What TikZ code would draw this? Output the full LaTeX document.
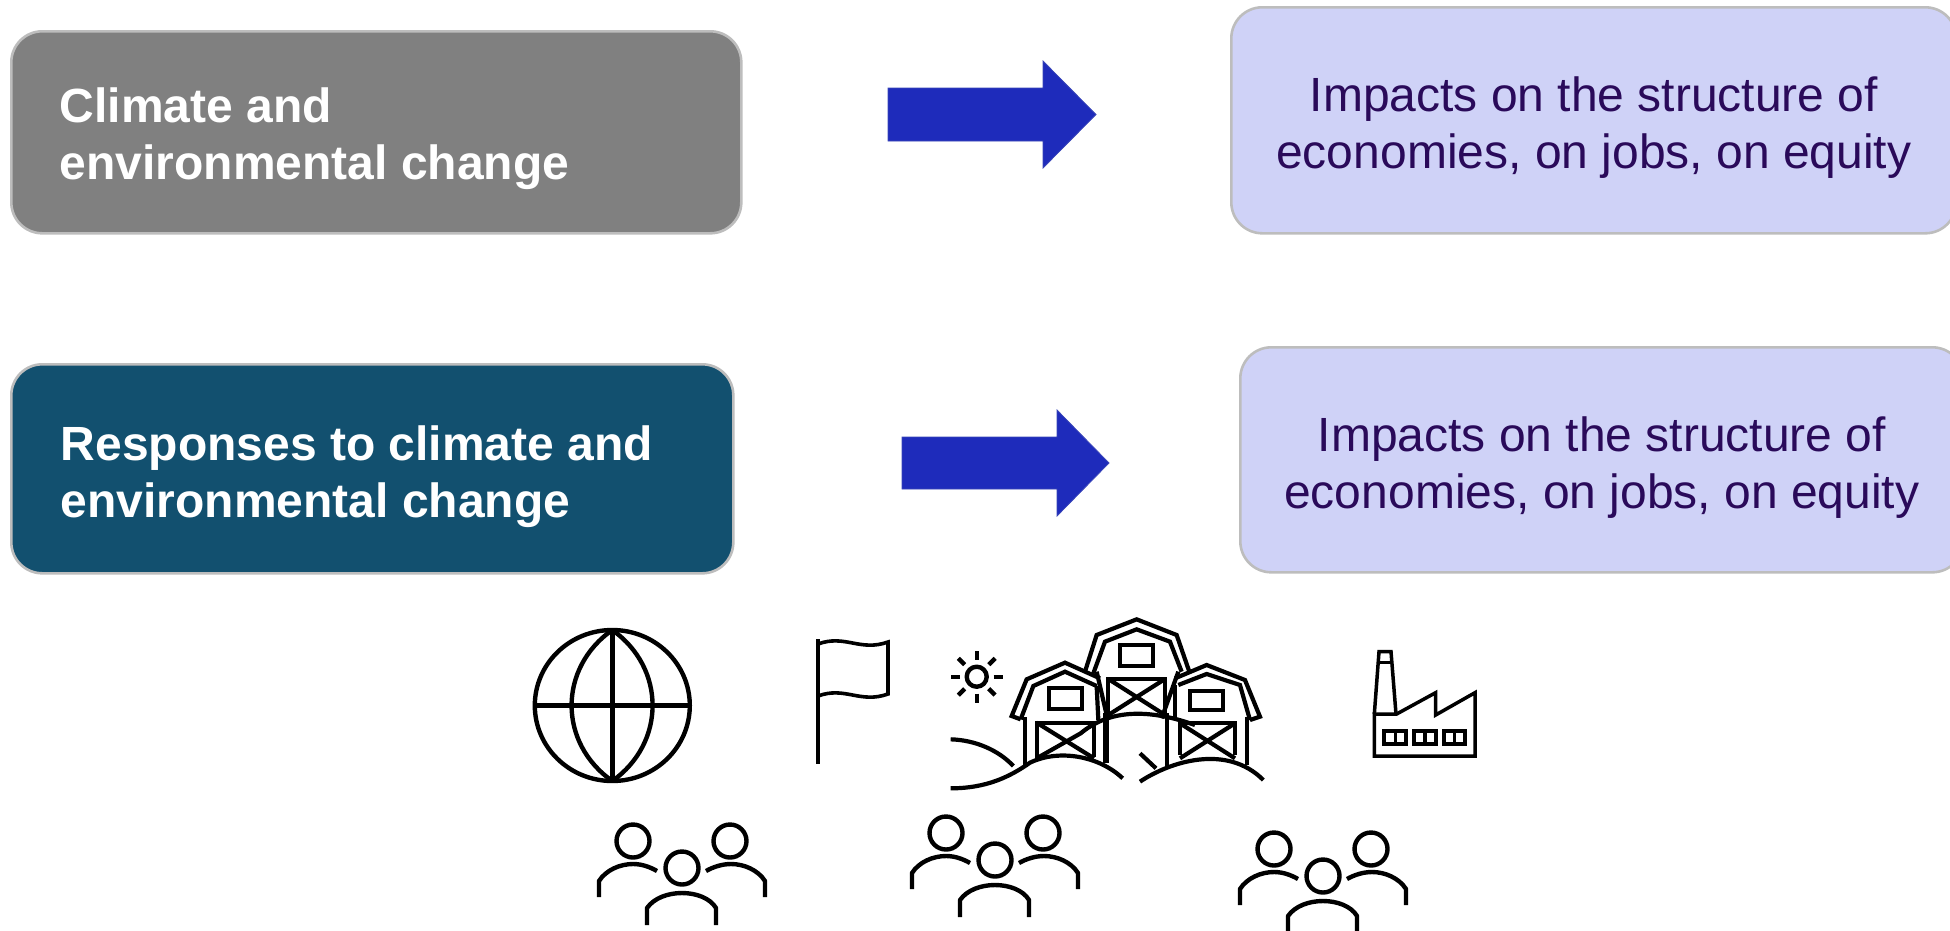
\documentclass[tikz,border=0pt]{standalone}
\usepackage{fontspec}
\setmainfont{Liberation Sans}
\definecolor{boxgray}{HTML}{808080}
\definecolor{boxteal}{HTML}{12506F}
\definecolor{boxlav}{HTML}{CFD2F7}
\definecolor{boxedge}{HTML}{BDBDBD}
\definecolor{lavtext}{HTML}{2A0A5A}
\definecolor{arrowblue}{HTML}{1E2BBB}
\definecolor{arrowedge}{HTML}{3A46B8}
\newcommand{\causetext}[3]{\hspace*{47pt}\parbox{#1}{\vspace*{#2}\bfseries #3}}
\newcommand{\impacttext}[1]{\parbox{700pt}{\vspace*{15pt}\centering #1}}
\tikzset{
  x=1pt,y=-1pt,
  box/.style={draw=boxedge,line width=2.6pt,rounded corners=31pt,anchor=north west,inner sep=0pt,font=\fontsize{48}{57}\selectfont},
  causebox/.style={box,text=white,align=left},
  impactbox/.style={box,fill=boxlav,text=lavtext,align=center},
  blockarrow/.style={fill=arrowblue,draw=arrowedge,line width=.8pt,line join=miter},
  ico/.style={draw=black,line width=4.4pt,line join=round},
  thin ico/.style={draw=black,line width=3.6pt,line join=miter},
  pics/people/.style={code={
    \foreach \hx/\hy in {633/841,730/841,682/868}
      \draw[ico] (\hx,\hy) circle[radius=16.5];
    \draw[ico,line join=round] (599,897) -- (599,881) .. controls (606,870) and (620,864) .. (633,864) .. controls (642,864) and (650,867) .. (657,871);
    \draw[ico] (765,897) -- (765,881) .. controls (758,870) and (744,864) .. (731,864) .. controls (722,864) and (713,867) .. (706,871);
    \draw[ico] (647,925) -- (647,908) .. controls (654,898) and (668,893) .. (682,893) .. controls (696,893) and (710,898) .. (716,908) -- (716,925);
  }},
}
\begin{document}
\begin{tikzpicture}
\useasboundingbox (0,0) rectangle (1950,930);
% boxes
\node[causebox,fill=boxgray,minimum width=730pt,minimum height=202pt] (cause1) at (10,30)
  {\causetext{680pt}{12.5pt}{Climate and\\environmental change}};
\node[causebox,fill=boxteal,minimum width=722pt,minimum height=209pt] (cause2) at (10,363)
  {\causetext{670pt}{15pt}{Responses to climate and\\environmental change}};
\node[impactbox,minimum width=725pt,minimum height=226pt] (impact1) at (1230,6)
  {\impacttext{Impacts on the structure of\\economies, on jobs, on equity}};
\node[impactbox,minimum width=723pt,minimum height=225pt] (impact2) at (1239,346)
  {\impacttext{Impacts on the structure of\\economies, on jobs, on equity}};
% block arrows
\draw[blockarrow] (888,88) -- (1043,88) -- (1043,61) -- (1096,114.5) -- (1043,168) -- (1043,141) -- (888,141) -- cycle;
\draw[blockarrow] (902,437) -- (1057,437) -- (1057,410) -- (1109,463) -- (1057,516) -- (1057,489) -- (902,489) -- cycle;
% globe
\draw[ico] (612.3,705.5) ellipse[x radius=77.5,y radius=75.5];
\draw[ico] (612.3,630) -- (612.3,781);
\draw[ico] (535,705.5) -- (690,705.5);
\draw[ico] (612.3,630) .. controls (558,668) and (558,743) .. (612.3,781) .. controls (666,743) and (666,668) .. (612.3,630);
% flag
\draw[thin ico] (818,639) -- (818,764);
\draw[thin ico] (818,644) .. controls (845,634) and (860,652) .. (888,642) -- (888,694) .. controls (860,704) and (845,686) .. (818,696);
% sun
\draw[ico] (976.7,676.7) circle[radius=10];
\foreach \a in {0,45,...,315}
  \draw[ico,line join=miter] (976.7,676.7) ++(\a:17) -- ++(\a:9);
% barns and hills
\begin{scope}[shift={(930,600)},x=.3333pt,y=-.3333pt]
\tikzset{bb/.style={draw=black,line width=4.2pt,line join=miter}}
\draw[bb] (62,418) .. controls (135,420) and (205,450) .. (250,498);
\draw[bb] (62,565) .. controls (170,565) and (240,530) .. (300,488) .. controls (390,445) and (510,470) .. (578,535);
\draw[bb] (630,545) .. controls (720,485) and (890,430) .. (1000,540);
\draw[bb] (320,475) -- (452,400) .. controls (530,335) and (640,320) .. (795,375);
\draw[bb] (630,460) -- (678,505);
% left barn
\draw[bb] (272,358) -- (245,348) -- (290,238) -- (405,188) -- (510,235);
\draw[bb] (272,358) -- (310,258) -- (405,215) -- (500,258);
\draw[bb] (285,495) -- (285,352);
\draw[bb] (525,490) -- (525,340);
\draw[bb] (500,258) -- (505,360);
\draw[bb] (357,265) rectangle (457,328);
\draw[bb] (320,475) -- (320,368) -- (492,368) -- (492,470);
\draw[bb] (320,368) -- (492,475);
% right barn
\draw[bb] (960,360) -- (990,350) -- (945,240) -- (830,195) -- (735,235);
\draw[bb] (960,360) -- (930,255) -- (830,222) -- (745,255);
\draw[bb] (950,495) -- (950,352);
\draw[bb] (710,500) -- (710,340);
\draw[bb] (735,255) -- (735,355);
\draw[bb] (780,272) rectangle (880,330);
\draw[bb] (750,465) -- (750,370) -- (915,370) -- (915,465);
\draw[bb] (750,475) -- (915,370);
\draw[bb] (750,370) -- (915,475);
% middle barn
\draw[bb] (465,215) -- (500,105) -- (620,58) -- (740,105) -- (778,215);
\draw[bb] (490,220) -- (525,125) -- (620,88) -- (720,125) -- (755,215);
\draw[bb] (500,215) -- (530,345);
\draw[bb] (530,340) -- (530,490);
\draw[bb] (745,215) -- (695,355);
\draw[bb] (570,135) rectangle (668,197);
\draw[bb] (535,340) -- (535,237) -- (705,237) -- (705,345);
\draw[bb] (535,345) -- (705,237);
\draw[bb] (535,237) -- (705,345);
\end{scope}
% factory
\begin{scope}[shift={(1340,630)},x=.3333pt,y=-.3333pt]
\tikzset{ff/.style={draw=black,line width=3.5pt,line join=miter}}
\draw[ff] (103,252) -- (103,378) -- (405,378) -- (405,188) -- (287,255) -- (287,188) -- (170,252) -- cycle;
\draw[ff] (103,252) -- (117,65) -- (153,65) -- (168,252);
\draw[ff] (114,98) -- (155,98);
\foreach \wx in {133,222,311}{
  \draw[ff,line width=4pt] (\wx,302) rectangle ++(65,40);
  \draw[ff] (\wx+33,302) -- ++(0,40);
}
\end{scope}
% people
\pic {people};
\pic[shift={(313,-8)}] {people};
\pic[shift={(641,8)}] {people};
\end{tikzpicture}
\end{document}
